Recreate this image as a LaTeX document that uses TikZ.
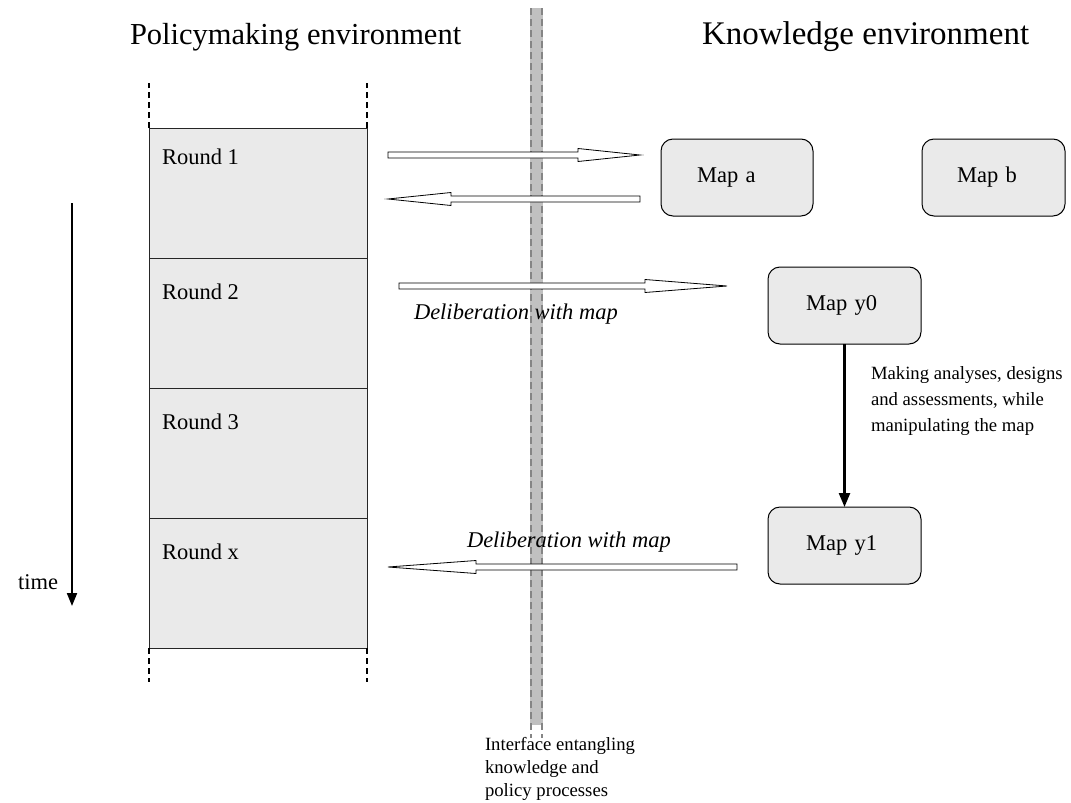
\documentclass[tikz,border=0pt]{standalone}
\usepackage{fontspec}
\setmainfont{Liberation Serif}
\usetikzlibrary{arrows.meta,calc}

\definecolor{panel}{HTML}{EAEAEA}
\definecolor{band}{HTML}{C0C0C0}
\definecolor{bandedge}{HTML}{858585}

% Hollow block arrow: #1 tail, #2 tip (horizontal), #3 head length in pt
\newcommand\hollowarrow[3]{%
  \draw[blockarrow] let \p1=(#1), \p2=(#2), \n1={sign(\x2-\x1)} in
    (\x1,{\y1+3pt}) -- ({\x2-\n1*#3pt},{\y1+3pt}) -- ({\x2-\n1*#3pt},{\y1+6.5pt})
    -- (\x2,\y2) -- ({\x2-\n1*#3pt},{\y1-6.5pt}) -- ({\x2-\n1*#3pt},{\y1-3pt})
    -- (\x1,{\y1-3pt}) -- cycle;}

\tikzset{
  every node/.style={inner sep=0pt, outer sep=0pt},
  body/.style={font=\fontsize{22.5}{27}\selectfont},
  title/.style={font=\fontsize{30.5}{36}\selectfont},
  small/.style={font=\fontsize{18.7}{23}\selectfont, align=left},
  roundcell/.style={draw=black!85, line width=1pt, fill=panel,
    minimum width=218, minimum height=130},
  roundlabel/.style={body, anchor=base west},
  mapbox/.style={draw=black, line width=1pt, fill=panel, rounded corners=12pt,
    minimum height=77, align=left, body},
  coldash/.style={line width=1.8pt, dash pattern=on 6pt off 4pt},
  blockarrow/.style={draw=black, line width=0.8pt, fill=white},
  solidarrow/.style={line width=2.4pt, -{Triangle[length=14pt,width=11pt]}},
  timearrow/.style={line width=2pt, -{Triangle[length=13pt,width=10pt]}},
}

\begin{document}
\begin{tikzpicture}[x=1pt, y=-1pt]
\useasboundingbox (0,0) rectangle (1071,803);

% interface band between the two environments
\fill[band] (530,8) rectangle (543,725);
\draw[bandedge, line width=2.5pt, dash pattern=on 7pt off 4pt] (531.2,8) -- (531.2,738);
\draw[bandedge, line width=2.5pt, dash pattern=on 7pt off 4pt] (541.8,8) -- (541.8,738);
\node[small, anchor=north west] (iface) at (485,737)
  {Interface entangling\\knowledge and\\policy processes};

% headings
\node[title, anchor=base west] (hpol) at (130,44) {Policymaking environment};
\node[title, anchor=base west, font=\fontsize{33}{38}\selectfont] (hkno) at (702,44) {Knowledge environment};

% policymaking rounds
\node[roundcell] (r1) at (258,193) {};
\node[roundcell] (r2) at (258,323) {};
\node[roundcell] (r3) at (258,453) {};
\node[roundcell] (rx) at (258,583) {};
\node[roundlabel] (l1) at (162,164) {Round 1};
\node[roundlabel] (l2) at (162,299) {Round 2};
\node[roundlabel] (l3) at (162,429) {Round 3};
\node[roundlabel] (lx) at (162,559) {Round x};
\draw[coldash] (r1.north west) -- ++(0,-45);
\draw[coldash] (r1.north east) -- ++(0,-45);
\draw[coldash] (rx.south west) -- ++(0,34);
\draw[coldash] (rx.south east) -- ++(0,34);

% time axis
\coordinate (t0) at (72,203);
\coordinate (t1) at (72,606);
\draw[timearrow] (t0) -- (t1);
\node[body, anchor=base east] (time) at (58,589) {time};

% maps in the knowledge environment
\node[mapbox, text width=80, inner xsep=36] (ma) at (737,177.5) {Map a};
\node[mapbox, text width=73, inner xsep=35] (mb) at (993.5,177.5) {Map b};
\node[mapbox, text width=77, inner xsep=38] (my0) at (844.5,305.5) {Map y0};
\node[mapbox, text width=77, inner xsep=38] (my1) at (844.5,545.5) {\raisebox{-5pt}{Map y1}};
\draw[solidarrow] (my0) -- (my1);
\node[small, anchor=north west, font=\fontsize{18.7}{26}\selectfont] (work) at (871,367)
  {Making analyses, designs\\and assessments, while\\manipulating the map};

% exchanges across the interface
\coordinate (a1s) at (388,155);  \coordinate (a1e) at (640,155);
\coordinate (a2s) at (640,199);  \coordinate (a2e) at (388,199);
\coordinate (a3s) at (399,286);  \coordinate (a3e) at (727,286);
\coordinate (a4s) at (737,567);  \coordinate (a4e) at (388,567);
\hollowarrow{a1s}{a1e}{62}
\hollowarrow{a2s}{a2e}{63}
\hollowarrow{a3s}{a3e}{82}
\hollowarrow{a4s}{a4e}{88}
\node[body, anchor=base west, font=\fontsize{22.5}{27}\selectfont\itshape] (d1) at (414,319) {Deliberation with map};
\node[body, anchor=base west, font=\fontsize{22.5}{27}\selectfont\itshape] (d2) at (467,547) {Deliberation with map};
\end{tikzpicture}
\end{document}
